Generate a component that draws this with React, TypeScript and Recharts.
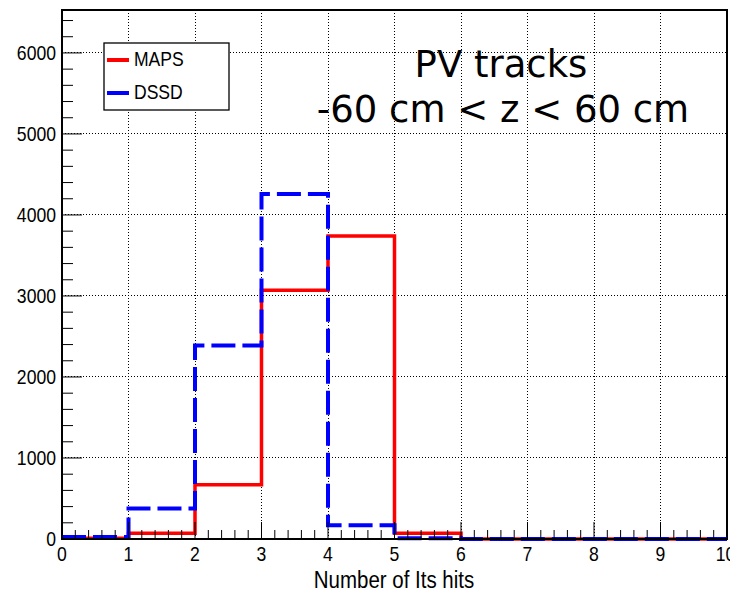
import React from 'react';
import { LineChart, Line, XAxis, YAxis, ReferenceLine, ReferenceArea, Legend, Customized } from 'recharts';

// ---- data ----
const binEdges = [0, 1, 2, 3, 4, 5, 6, 7, 8, 9, 10];
const mapsCounts = [10, 70, 670, 3070, 3740, 70, 0, 0, 0, 0];
const dssdCounts = [25, 377, 2390, 4260, 170, 10, 0, 0, 0, 0];
const seriesNames = ['MAPS', 'DSSD'];
const xMajorTicks = [0, 1, 2, 3, 4, 5, 6, 7, 8, 9, 10];
const yMajorTicks = [0, 1000, 2000, 3000, 4000, 5000, 6000];
const xMinorPerMajor = 5;
const yMinorStep = 200;
const yMax = 6530;
const xTitle = 'Number of Its hits';
const annotationLines = ['PV tracks', '-60 cm < z < 60 cm'];

const xTicks: number[] = [];
for (let i = 0; i < xMajorTicks.length - 1; i++) {
  for (let k = 0; k < xMinorPerMajor; k++) {
    xTicks.push(xMajorTicks[i] + ((xMajorTicks[i + 1] - xMajorTicks[i]) * k) / xMinorPerMajor);
  }
}
xTicks.push(xMajorTicks[xMajorTicks.length - 1]);
const yTicks: number[] = [];
for (let v = 0; v <= yMax; v += yMinorStep) yTicks.push(v);

const data = binEdges.map((x, i) => ({
  x,
  maps: mapsCounts[Math.min(i, mapsCounts.length - 1)],
  dssd: dssdCounts[Math.min(i, dssdCounts.length - 1)],
}));

const FONT = '"Liberation Sans", Arial, Helvetica, sans-serif';

const isMajorX = (v: number) => xMajorTicks.some((m) => Math.abs(m - v) < 1e-6);
const isMajorY = (v: number) => yMajorTicks.some((m) => Math.abs(m - v) < 1e-6);

const NarrowText = ({ x, y, sx, size, anchor, children }: any) => (
  <text
    transform={`translate(${x},${y}) scale(${sx},1)`}
    x={0}
    y={0}
    textAnchor={anchor || 'start'}
    fontFamily={FONT}
    fontSize={size}
    fill="#000"
  >
    {children}
  </text>
);

const XTick = (props: any) => {
  const { x, y, payload } = props;
  const v = payload.value;
  const major = isMajorX(v);
  return (
    <g>
      <line x1={x} x2={x} y1={y} y2={y - (major ? 17 : 9)} stroke="#000" strokeWidth={1} />
      {major && (
        <NarrowText x={v === 10 ? x - 1.5 : x} y={y + 22} sx={0.88} size={20} anchor="middle">
          {Math.round(v)}
        </NarrowText>
      )}
    </g>
  );
};

const YTick = (props: any) => {
  const { x, y, payload } = props;
  const v = payload.value;
  const major = isMajorY(v);
  return (
    <g>
      <line x1={x} x2={x + (major ? 20 : 11)} y1={y} y2={y} stroke="#000" strokeWidth={1} />
      {major && (
        <NarrowText x={x - 6} y={y + 7} sx={0.88} size={20} anchor="end">
          {Math.round(v)}
        </NarrowText>
      )}
    </g>
  );
};

const LegendBox = (props: any) => {
  const payload = [...(props.payload || [])].sort(
    (a: any, b: any) => seriesNames.indexOf(a.value) - seriesNames.indexOf(b.value)
  );
  return (
    <svg width={127} height={69} style={{ display: 'block' }}>
      <rect x={1} y={1} width={125} height={67} fill="#fff" stroke="#000" strokeWidth={1.3} />
      {payload.map((p: any, i: number) => (
        <g key={i}>
          <line x1={4} x2={26} y1={18 + i * 33} y2={18 + i * 33} stroke={p.color} strokeWidth={4} />
          <NarrowText x={31} y={24 + i * 33} sx={0.9} size={19.5}>
            {p.value}
          </NarrowText>
        </g>
      ))}
    </svg>
  );
};

const Annotation = () => (
  <g>
    <text x={493} y={69} textAnchor="middle" fontFamily='"DejaVu Sans", sans-serif' fontSize={37} fill="#000">
      {annotationLines[0]}
    </text>
    <text x={495} y={114} textAnchor="middle" fontFamily='"DejaVu Sans", sans-serif' fontSize={37} fill="#000">
      {annotationLines[1]}
    </text>
  </g>
);

const XTitle = () => (
  <NarrowText x={386} y={580} sx={0.89} size={23} anchor="middle">
    {xTitle}
  </NarrowText>
);

export default function App() {
  return (
    <LineChart width={730} height={585} data={data} margin={{ top: 2, right: 11, bottom: 0, left: 0 }}>
      <XAxis
        dataKey="x"
        type="number"
        domain={[0, 10]}
        ticks={xTicks}
        interval={0}
        tickSize={0}
        tickMargin={0}
        tickLine={false}
        axisLine={{ stroke: '#000', strokeWidth: 2 }}
        tick={<XTick />}
        height={54}
      />
      <YAxis
        type="number"
        domain={[0, yMax]}
        ticks={yTicks}
        interval={0}
        tickSize={0}
        tickMargin={0}
        tickLine={false}
        axisLine={{ stroke: '#000', strokeWidth: 2 }}
        tick={<YTick />}
        width={54}
      />
      {xMajorTicks.slice(1, -1).map((v) => (
        <ReferenceLine
          key={'gx' + v}
          x={v}
          stroke="#000"
          strokeWidth={1}
          strokeDasharray="1 2"
          shapeRendering="crispEdges"
        />
      ))}
      {yMajorTicks.slice(1).map((v) => (
        <ReferenceLine
          key={'gy' + v}
          y={v}
          stroke="#000"
          strokeWidth={1}
          strokeDasharray="1 2"
          shapeRendering="crispEdges"
        />
      ))}
      <ReferenceArea x1={0} x2={10} y1={0} y2={yMax} fill="none" stroke="#000" strokeWidth={2} />
      <Line
        type="stepAfter"
        dataKey="maps"
        name={seriesNames[0]}
        stroke="#ff0000"
        strokeWidth={3.5}
        dot={false}
        activeDot={false}
        isAnimationActive={false}
      />
      <Line
        type="stepAfter"
        dataKey="dssd"
        name={seriesNames[1]}
        stroke="#0000ff"
        strokeWidth={4}
        strokeDasharray="24 7"
        dot={false}
        activeDot={false}
        isAnimationActive={false}
      />
      <Legend
        layout="horizontal"
        verticalAlign="middle"
        align="center"
        content={<LegendBox />}
        wrapperStyle={{ left: 95, top: 34, width: 127, height: 69 }}
      />
      <Customized component={Annotation} />
      <Customized component={XTitle} />
    </LineChart>
  );
}
